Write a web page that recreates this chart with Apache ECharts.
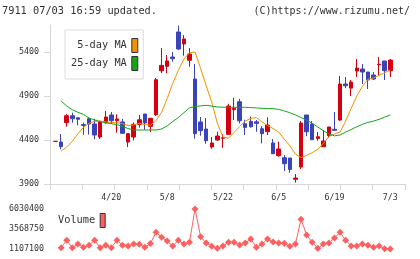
<!DOCTYPE html>
<html>
<head>
<meta charset="utf-8">
<script src="https://cdn.jsdelivr.net/npm/echarts@6/dist/echarts.min.js"></script>
<style>
  html, body { margin: 0; padding: 0; background: #fff; }
  #main { width: 420px; height: 259px; }
</style>
</head>
<body>
<div id="main"></div>
<script type="text/javascript">
// trading days (first slot and last three are empty padding)
var dates = ['', '4/6', '4/7', '4/8', '4/9', '4/10', '4/13', '4/14', '4/15', '4/16', '4/17',
  '4/20', '4/21', '4/22', '4/23', '4/24', '4/27', '4/28', '4/30', '5/1', '5/7',
  '5/8', '5/11', '5/12', '5/13', '5/14', '5/15', '5/18', '5/19', '5/20', '5/21',
  '5/22', '5/25', '5/26', '5/27', '5/28', '5/29', '6/1', '6/2', '6/3', '6/4',
  '6/5', '6/8', '6/9', '6/10', '6/11', '6/12', '6/15', '6/16', '6/17', '6/18',
  '6/19', '6/22', '6/23', '6/24', '6/25', '6/26', '6/29', '6/30', '7/1', '7/2',
  '7/3', '', '', ''];
var dateLabels = ['4/20', '5/8', '5/22', '6/5', '6/19', '7/3'];

var opens = [null, 4385, 4377, 4597, 4676, 4653, 4575, 4642, 4582, 4434, 4597,
  4684, 4619, 4605, 4377, 4434, 4578, 4695, 4555, 4688, 5187,
  5237, 5343, 5627, 5491, 5306, 5093, 4605, 4525, 4320, 4400,
  4420, 4464, 4744, 4835, 4585, 4612, 4607, 4528, 4494, 4366,
  4222, 4199, 4195, 3953, 4093, 4684, 4582, 4418, 4324, 4449,
  4522, 4627, 5036, 4990, 5184, 5207, 5173, 5139, 5254, 5298,
  5188];
var closes = [null, 4385, 4324, 4676, 4642, 4635, 4565, 4582, 4457, 4605, 4661,
  4619, 4639, 4476, 4472, 4578, 4630, 4594, 4647, 5085, 5248,
  5298, 5324, 5434, 5548, 5377, 4472, 4506, 4392, 4366, 4445,
  4425, 4786, 4760, 4619, 4543, 4551, 4589, 4472, 4570, 4244,
  4298, 4130, 4066, 3968, 4593, 4494, 4403, 4437, 4389, 4548,
  4510, 5036, 5017, 5059, 5218, 5173, 5082, 5093, 5260, 5188,
  5309];
var lows = [null, 4385, 4294, 4551, 4597, 4567, 4460, 4462, 4408, 4411, 4585,
  4582, 4483, 4472, 4320, 4395, 4540, 4515, 4490, 4673, 5160,
  5158, 5290, 5423, 5358, 5233, 4415, 4449, 4357, 4300, 4392,
  4312, 4457, 4627, 4589, 4457, 4540, 4494, 4362, 4457, 4241,
  4210, 4048, 4027, 3915, 4070, 4445, 4403, 4392, 4324, 4425,
  4506, 4616, 4990, 4900, 5116, 5036, 4980, 5082, 5131, 5082,
  5116];
var highs = [null, 4385, 4468, 4695, 4710, 4653, 4597, 4650, 4642, 4620, 4730,
  4718, 4692, 4640, 4472, 4600, 4685, 4695, 4650, 5105, 5445,
  5366, 5400, 5700, 5593, 5445, 5264, 4661, 4650, 4434, 4494,
  4468, 4812, 4880, 4868, 4630, 4665, 4627, 4556, 4658, 4411,
  4381, 4230, 4195, 4014, 4616, 4684, 4616, 4491, 4514, 4548,
  4718, 5127, 5116, 5082, 5320, 5264, 5173, 5173, 5343, 5298,
  5320];

var ma5 = [null, null, 4275, 4320, 4385, 4470, 4545, 4590, 4612, 4615, 4605,
  4600, 4595, 4585, 4565, 4570, 4590, 4575, 4570, 4620, 4715,
  4870, 5045, 5190, 5320, 5390, 5400, 5215, 5015, 4830, 4590,
  4435, 4420, 4485, 4555, 4615, 4645, 4655, 4605, 4565, 4530,
  4490, 4410, 4335, 4240, 4200, 4225, 4255, 4295, 4360, 4440,
  4470, 4490, 4615, 4760, 4900, 5010, 5090, 5105, 5135, 5165,
  5195];
var ma25 = [null, null, 4843, 4786, 4745, 4715, 4690, 4650, 4628, 4608, 4595,
  4585, 4575, 4555, 4530, 4514, 4514, 4514, 4514, 4514, 4525,
  4560, 4610, 4655, 4710, 4765, 4780, 4788, 4794, 4785, 4776,
  4772, 4772, 4772, 4772, 4772, 4768, 4765, 4760, 4758, 4756,
  4748, 4730, 4710, 4685, 4655, 4625, 4590, 4548, 4505, 4470,
  4447, 4457, 4490, 4520, 4551, 4578, 4600, 4615, 4635, 4660,
  4684];

var volumes = [null, null, 1270000, 2180000, 1270000, 1720000, 1320000, 1560000, 2180000, 1270000, 1560000,
  1270000, 2180000, 1560000, 1480000, 1720000, 1680000, 1320000, 1770000, 3160000, 2550000,
  2090000, 1480000, 2180000, 1720000, 1930000, 6030400, 2620000, 1850000, 1440000, 1190000,
  1480000, 1930000, 1930000, 1600000, 1850000, 2340000, 1320000, 1720000, 2340000, 1970000,
  1850000, 1810000, 1440000, 1720000, 4760000, 2830000, 1930000, 1190000, 1720000, 1850000,
  2460000, 3160000, 2180000, 1480000, 1480000, 1720000, 1560000, 1320000, 1480000, 1140000,
  1107100];

var yTicks = [3900, 4400, 4900, 5400];
var volTicks = [1107100, 3568750, 6030400];

var candles = opens.map(function (o, i) {
  if (o === null) return '-';
  return [o, closes[i], lows[i], highs[i]];
});

var mono = 'DejaVu Sans Mono';
var axisGray = '#d6d6d6';
var txt = '#333';
var plain = function (v) { return String(v); };

var myChart = echarts.init(document.getElementById('main'), null, { renderer: 'canvas' });

var option = {
  animation: false,
  backgroundColor: '#fff',
  title: [
    { text: '7911 07/03 16:59 updated.', left: 2, top: 6, padding: 0,
      textStyle: { fontFamily: mono, fontSize: 10.3, fontWeight: 'normal', color: txt } },
    { text: '(C)https://www.rizumu.net/', right: 10, top: 6, padding: 0,
      textStyle: { fontFamily: mono, fontSize: 10, fontWeight: 'normal', color: txt } }
  ],
  legend: [
    {
      data: ['5-day MA', '25-day MA'],
      orient: 'vertical',
      align: 'right',
      left: 65, top: 30,
      padding: [8, 5, 8, 6],
      itemGap: 3,
      itemWidth: 6, itemHeight: 14,
      icon: 'rect',
      backgroundColor: '#fff',
      borderColor: '#dcdcdc',
      borderWidth: 1,
      itemStyle: { borderColor: '#333', borderWidth: 1 },
      textStyle: { fontFamily: mono, fontSize: 10.3, color: txt }
    },
    {
      data: ['Volume'],
      orient: 'vertical',
      align: 'right',
      left: 58, top: 213,
      padding: 0,
      itemWidth: 5, itemHeight: 14,
      icon: 'rect',
      itemStyle: { borderColor: '#333', borderWidth: 1 },
      textStyle: { fontFamily: mono, fontSize: 10.3, color: txt }
    }
  ],
  grid: [
    { left: 50, right: 15, top: 25, height: 159 },   // axis frame
    { left: 50, width: 357, top: 25, height: 159 },  // candles
    { left: 50, width: 357, top: 209, height: 40 }   // volume
  ],
  xAxis: [
    {
      gridIndex: 0, type: 'value', min: 0, max: 11, interval: 1,
      axisLine: { lineStyle: { color: axisGray } },
      axisTick: { length: 6, lineStyle: { color: axisGray } },
      axisLabel: { show: false },
      splitLine: { show: false }
    },
    {
      gridIndex: 1, type: 'category', data: dates, boundaryGap: false,
      axisLine: { show: false },
      axisTick: { show: false },
      axisLabel: {
        interval: function (i, v) { return dateLabels.indexOf(v) >= 0; },
        margin: 10,
        fontFamily: mono, fontSize: 8.3, color: txt
      },
      splitLine: { show: false }
    },
    {
      gridIndex: 2, type: 'category', data: dates, boundaryGap: false,
      axisLine: { show: false }, axisTick: { show: false },
      axisLabel: { show: false }, splitLine: { show: false }
    }
  ],
  yAxis: [
    {
      gridIndex: 0, type: 'value', min: 3900, max: 5707,
      axisLine: { show: false }, axisTick: { show: false },
      axisLabel: { show: false }, splitLine: { show: false }
    },
    {
      gridIndex: 1, type: 'value', min: 3900, max: 5707,
      axisLine: { show: true, lineStyle: { color: axisGray } },
      axisTick: { show: true, length: 6, customValues: yTicks, lineStyle: { color: axisGray } },
      axisLabel: { customValues: yTicks, formatter: plain, margin: 11,
        fontFamily: mono, fontSize: 8.3, color: txt },
      splitLine: { show: false }
    },
    {
      gridIndex: 2, type: 'value', min: 1107100, max: 6030400,
      axisLine: { show: false }, axisTick: { show: false },
      axisLabel: { customValues: volTicks, formatter: plain, margin: 6,
        fontFamily: mono, fontSize: 8.3, color: txt },
      splitLine: { show: false }
    }
  ],
  series: [
    {
      type: 'candlestick',
      xAxisIndex: 1, yAxisIndex: 1,
      data: candles,
      barWidth: 4,
      itemStyle: {
        color: '#d40012', color0: '#3a44b8',
        borderColor: '#d40012', borderColor0: '#3a44b8',
        borderColorDoji: '#d40012', borderWidth: 1
      }
    },
    {
      name: '5-day MA', type: 'line',
      xAxisIndex: 1, yAxisIndex: 1,
      data: ma5, showSymbol: false, symbol: 'none',
      color: '#f39000',
      lineStyle: { width: 1, color: '#f39000' }
    },
    {
      name: '25-day MA', type: 'line',
      xAxisIndex: 1, yAxisIndex: 1,
      data: ma25, showSymbol: false, symbol: 'none',
      color: '#16a516',
      lineStyle: { width: 1, color: '#16a516' }
    },
    {
      name: 'Volume', type: 'line',
      xAxisIndex: 2, yAxisIndex: 2,
      data: volumes,
      symbol: 'diamond', symbolSize: 7,
      showSymbol: true, showAllSymbol: true,
      color: '#ff5f5f',
      lineStyle: { width: 1, color: '#ff5f5f' },
      itemStyle: { color: '#ff5f5f' }
    }
  ]
};
myChart.setOption(option);
</script>
</body>
</html>
